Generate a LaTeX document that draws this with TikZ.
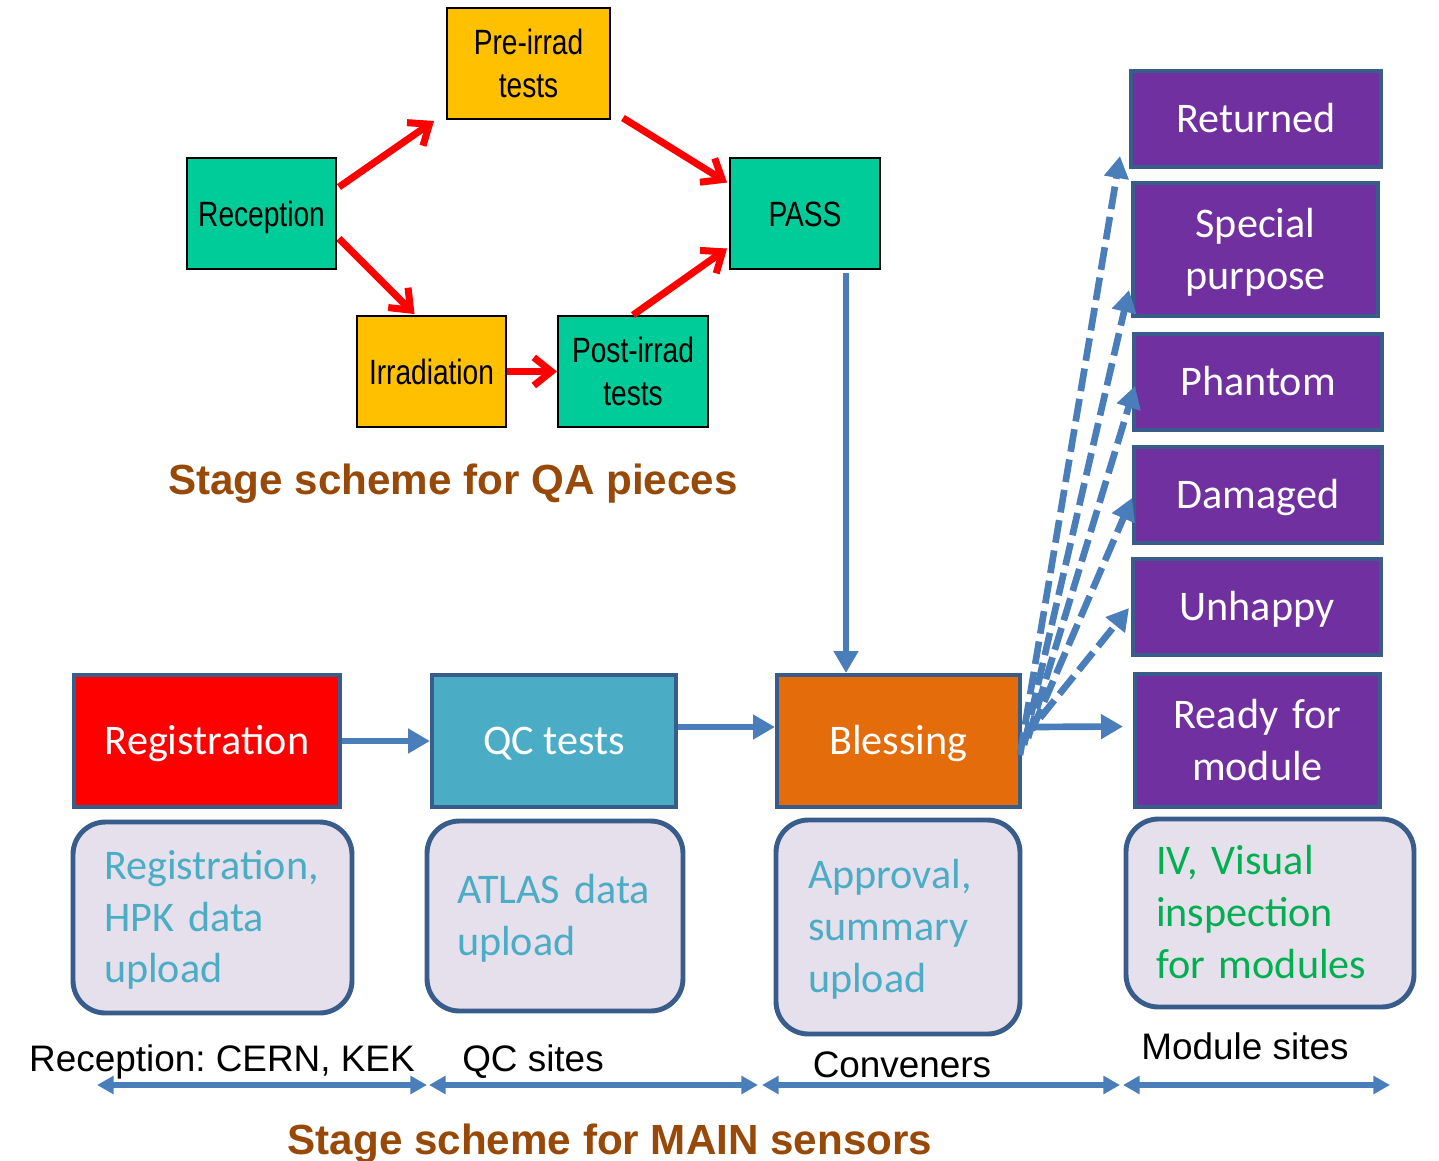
\documentclass[tikz,border=0pt]{standalone}
\usepackage{fontspec}
\setmainfont{Carlito}
\newfontfamily\arialfont{Liberation Sans}
\newfontfamily\narrowfont{Liberation Sans}[FakeStretch=0.8]
\usetikzlibrary{arrows.meta,calc}
\frenchspacing
\definecolor{qagreen}{HTML}{00CC99}
\definecolor{qayellow}{HTML}{FFC000}
\definecolor{bordblue}{HTML}{385D8A}
\definecolor{arrblue}{HTML}{4A7EBB}
\definecolor{regred}{HTML}{FF0000}
\definecolor{qcblue}{HTML}{4BACC6}
\definecolor{blessorange}{HTML}{E46C0A}
\definecolor{purp}{HTML}{7030A0}
\definecolor{lav}{HTML}{E6E0EC}
\definecolor{txtgreen}{HTML}{00B050}
\definecolor{titlebrown}{HTML}{984807}
\tikzset{
  wh/.style 2 args={minimum width={#1*0.02cm}, minimum height={#2*0.02cm}},
  tw/.style={text width={#1*0.02cm}},
  qabox/.style={draw=black, line width=1.1pt, inner sep=0pt, align=center,
    font=\narrowfont\fontsize{20}{24.4}\selectfont},
  qaone/.style={text height=18pt, text depth=3.7pt},
  qatwo/.style={text height=18pt, text depth=28.1pt},
  mainbox/.style={draw=bordblue, line width=2.3pt, inner sep=0pt, align=center,
    text=white, font=\fontsize{24}{29.5}\selectfont},
  lineone/.style={text height=19.2pt, text depth=3.75pt},
  linetwo/.style={text height=19.2pt, text depth=33.2pt},
  linethree/.style={text height=19.2pt, text depth=62.7pt},
  notebox/.style={draw=bordblue, line width=2.8pt, fill=lav, rounded corners=0.65cm,
    inner sep=0pt, align=left, font=\fontsize{24}{29.5}\selectfont},
  redarrow/.style={draw=red, line width=4pt, -{Straight Barb[length=10pt,width=16pt]}},
  bluearrow/.style={draw=arrblue, line width=3.8pt, -{Triangle[length=12.5pt,width=13.5pt]}},
  dasharrow/.style={bluearrow, dash pattern=on 13pt off 4.5pt},
  spanarrow/.style={draw=arrblue, line width=3pt,
    {Triangle[length=9.5pt,width=10pt]}-{Triangle[length=9.5pt,width=10pt]}},
  sitelabel/.style={inner sep=0pt, font=\arialfont\fontsize{21}{25}\selectfont},
  titlelabel/.style={inner sep=0pt, text=titlebrown, font=\arialfont\bfseries\fontsize{24}{29}\selectfont},
}
\begin{document}
\begin{tikzpicture}[x=0.02cm,y=-0.02cm]
\fill[white] (0,0) rectangle (1439,1160);
\useasboundingbox (0,0) rectangle (1439,1160);

% QA scheme
\node[qabox, qatwo, fill=qayellow, wh={163}{111}, tw={163}] (pre) at (528.5,63.5) {Pre-irrad\\tests};
\node[qabox, qaone, fill=qagreen, wh={149}{111}] (rec) at (261.5,213.5) {Reception};
\node[qabox, qaone, fill=qagreen, wh={150}{111}] (pass) at (805,213.5) {PASS};
\node[qabox, qaone, fill=qayellow, wh={149}{111}] (irr) at (431.5,371.5) {Irradiation};
\node[qabox, qatwo, fill=qagreen, wh={150}{111}, tw={150}] (post) at (633,371.5) {Post-irrad\\tests};

\draw[redarrow] ($(rec.north east)+(2,30)$) -- ($(pre.south west)+(-12,1)$);
\draw[redarrow] ($(pre.south east)+(12,-2)$) -- ($(pass.west)+(-2,-31)$);
\draw[redarrow] ($(rec.east)+(2,25)$) -- ($(irr.north)+(-17,-1)$);
\draw[redarrow] (irr.east) -- (post.west);
\draw[redarrow] (post.north) -- ($(pass.west)+(-2,35)$);

\node[titlelabel, anchor=base] (qatitle) at (453,494) {Stage scheme for QA pieces};

% main stages
\node[mainbox, lineone, fill=regred, wh={266}{132}] (reg) at (207,741) {Registration};
\node[mainbox, lineone, fill=qcblue, wh={244}{132}] (qc) at (554,741) {QC tests};
\node[mainbox, lineone, fill=blessorange, wh={243}{132}] (bless) at (898.5,741) {Blessing};

\node[mainbox, lineone, fill=purp, wh={250}{96}] (ret) at (1256,119) {Returned};
\node[mainbox, linetwo, fill=purp, wh={245}{133}, tw={245}] (spec) at (1255.5,249.5) {Special\\purpose};
\node[mainbox, lineone, fill=purp, wh={248}{96}] (phan) at (1258,382) {Phantom};
\node[mainbox, lineone, fill=purp, wh={248}{96}] (dam) at (1258,495) {Damaged};
\node[mainbox, lineone, fill=purp, wh={248}{96}] (unh) at (1257,607) {Unhappy};
\node[mainbox, linetwo, fill=purp, wh={245}{133}, tw={245}] (ready) at (1257.5,740.5) {Ready for\\module};

% notes
\node[notebox, linethree, wh={279}{191}, tw={217}, text=qcblue] (n1) at (212.5,917.5) {Registration,\\HPK data\\upload};
\node[notebox, linetwo, wh={256}{190}, tw={196}, text=qcblue] (n2) at (555,916) {ATLAS data\\upload};
\node[notebox, linethree, wh={244}{214}, tw={180}, text=qcblue] (n3) at (898,927) {Approval,\\summary\\upload};
\node[notebox, linethree, wh={288}{188}, tw={228}, text=txtgreen] (n4) at (1270,913) {IV, Visual\\inspection\\for modules};

% connectors
\draw[bluearrow] ($(pass.south)+(41,3)$) coordinate (pv) -- (pv |- bless.north);
\draw[bluearrow] (reg.east) -- (qc.west);
\draw[bluearrow] ($(qc.east)+(0,-14)$) -- ($(bless.west)+(0,-14)$);
\draw[bluearrow] ($(bless.east)+(8,-14)$) -- ($(ready.west)+(-10,-14)$);

\draw[dasharrow] ($(bless.east)+(-2,14)$) -- ($(ret.south west)+(-9,-13)$);
\draw[dasharrow] ($(bless.east)+(2,4)$) -- ($(spec.south west)+(-2,-28)$);
\draw[dasharrow] ($(bless.east)+(6,-3)$) -- ($(phan.west)+(3,4)$);
\draw[dasharrow] ($(bless.east)+(10,-11)$) -- ($(dam.west)+(0,3)$);
\draw[dasharrow] ($(bless.east)+(18,-23)$) -- ($(unh.west)+(-2,1)$);

% site spans
\node[sitelabel] (l1) at (222,1062) {Reception: CERN, KEK};
\node[sitelabel] (l2) at (533,1062) {QC sites};
\node[sitelabel] (l3) at (902,1065) {Conveners};
\node[sitelabel] (l4) at (1245,1046) {Module sites};

\coordinate (s0) at (97,1085);
\coordinate (s1) at (427,1085);
\coordinate (s2) at (429,1085);
\coordinate (s3) at (758,1085);
\coordinate (s4) at (762,1085);
\coordinate (s5) at (1120,1085);
\coordinate (s6) at (1123,1085);
\coordinate (s7) at (1390,1085);
\draw[spanarrow] (s0) -- (s1);
\draw[spanarrow] (s2) -- (s3);
\draw[spanarrow] (s4) -- (s5);
\draw[spanarrow] (s6) -- (s7);

\node[titlelabel, anchor=base] (maintitle) at (610,1154) {Stage scheme for MAIN sensors};
\end{tikzpicture}
\end{document}
